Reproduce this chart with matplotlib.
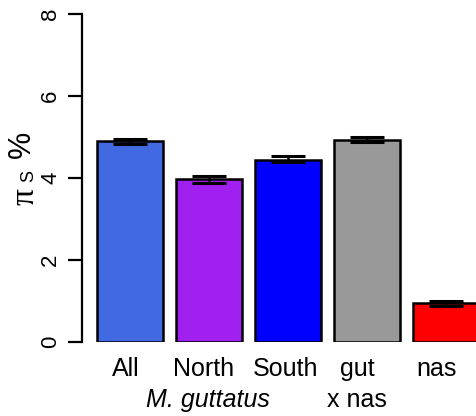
import matplotlib
matplotlib.use("Agg")
import matplotlib.pyplot as plt
from matplotlib import transforms

categories = ["All", "North", "South", "gut", "nas"]
values = [4.90, 3.97, 4.45, 4.93, 0.94]
err_low = [4.84, 3.89, 4.38, 4.87, 0.89]
err_high = [4.96, 4.06, 4.53, 5.01, 1.00]
colors = ["#4169E1", "#A020F0", "#0000FF", "#999999", "#FF0000"]
group_labels = ["M. guttatus", "x nas"]
yticks = [0, 2, 4, 6, 8]

plt.rcParams['font.family'] = ['Liberation Sans', 'DejaVu Sans']

W, H = 476, 416
fig = plt.figure(figsize=(W / 100, H / 100), dpi=100)
left_px, bottom_px, top_px = 82, 342, 14
ax = fig.add_axes([left_px / W, (H - bottom_px) / H, 1 - left_px / W, (bottom_px - top_px) / H])

width, space = 1.0, 0.2
centers = [space + width / 2 + i * (width + space) for i in range(len(values))]
ax.bar(centers, values, width=width, color=colors, edgecolor="black", linewidth=1.8, zorder=2)

lower = [v - lo for v, lo in zip(values, err_low)]
upper = [hi - v for v, hi in zip(values, err_high)]
ax.errorbar(centers, values, yerr=[lower, upper], fmt="none", ecolor="black",
            elinewidth=1.8, capsize=12, capthick=2.2, zorder=3)

px_per_unit = 79 / 1.2
xmin = space - (97 - left_px) / px_per_unit
xmax = space + (W - 97) / px_per_unit
ax.set_xlim(xmin, xmax)
ax.set_ylim(0, 8)

for s in ["top", "right", "bottom"]:
    ax.spines[s].set_visible(False)
ax.spines["left"].set_linewidth(1.6)
ax.set_xticks([])
ax.set_yticks(yticks)
ax.set_yticklabels([str(t) for t in yticks], rotation=90, va="center", fontsize=16)
ax.tick_params(axis="y", length=10, width=1.6, pad=5)

# y label: pi (symbol font), subscript S, percent sign
fig.text(25 / W, (H - 197) / H, "\u03c0", rotation=90, fontsize=24,
         family=["Liberation Serif", "DejaVu Serif"], ha="center", va="center")
fig.text(29 / W, (H - 176) / H, "S", rotation=90, fontsize=13, ha="center", va="center")
fig.text(21.5 / W, (H - 144.5) / H, "%", rotation=90, fontsize=22, ha="center", va="center")

label_offsets = [-0.06, -0.08, -0.04, -0.14, -0.14]
trans = transforms.blended_transform_factory(ax.transData, fig.transFigure)
for c, lab, off in zip(centers, categories, label_offsets):
    fig.text(c + off, (H - 369) / H, lab, transform=trans, ha="center", va="center", fontsize=18)
fig.text(centers[1] - 0.02, (H - 400) / H, group_labels[0], transform=trans,
         ha="center", va="center", fontsize=18, style="italic")
fig.text(centers[3] - 0.15, (H - 400) / H, group_labels[1], transform=trans,
         ha="center", va="center", fontsize=18)

fig.savefig("out.png", dpi=100)
